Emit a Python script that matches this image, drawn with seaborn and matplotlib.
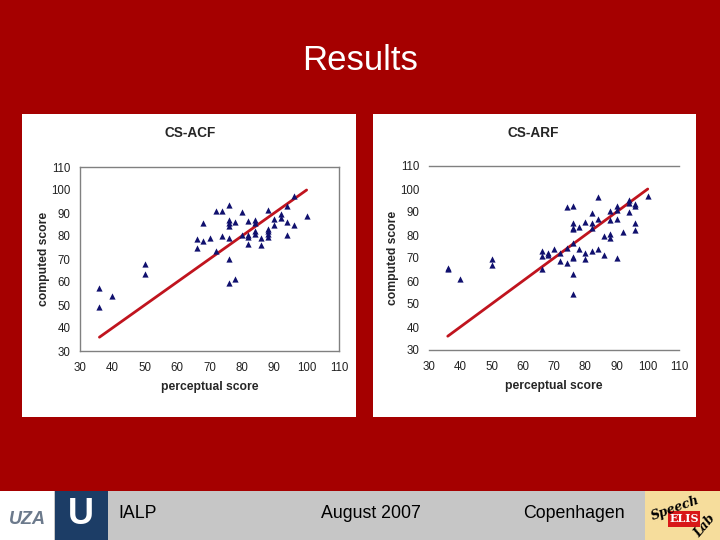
import numpy as np
import pandas as pd
import seaborn as sns
import matplotlib.pyplot as plt
from matplotlib.patches import Rectangle

# ==========================================
# DATA
# ==========================================
acf_perc = [36, 36, 40, 50, 50, 66, 66, 68, 68, 70, 72, 72, 74, 74,
            76, 76, 76, 76, 76, 76, 76, 78, 78, 80, 80, 82, 82, 82, 82,
            84, 84, 84, 84, 86, 86, 88, 88, 88, 88, 88, 90, 90, 92, 92,
            94, 94, 94, 96, 96, 100]
acf_comp = [57.5, 49, 54, 68, 63.5, 78.5, 75, 85.5, 78, 79, 91, 73.5, 91, 80,
            93.5, 87, 85.5, 84.5, 79, 70, 59.5, 86, 61.5, 90.5, 80.5, 86.5, 80.5, 79.5, 76.5,
            87, 85.5, 82, 81, 79, 76, 91.5, 83, 82, 81, 79.5, 87.5, 85, 89.5, 88,
            93, 86, 80.5, 97.5, 85, 88.5]

arf_perc = [36, 36, 40, 50, 50, 66, 66, 66, 68, 68, 70, 72, 72, 74, 74, 74,
            76, 76, 76, 76, 76, 76, 76, 76, 76, 78, 78, 80, 80, 80,
            82, 82, 82, 82, 84, 84, 84, 86, 86, 88, 88, 88, 88,
            90, 90, 90, 90, 92, 94, 94, 94, 96, 96, 96, 96, 100]
arf_comp = [65.5, 65, 61, 69.5, 67, 73, 71, 65, 72, 71.5, 74, 72, 68.5, 92, 74.5, 68,
            92.5, 85, 83, 82.5, 76.5, 70.5, 70, 63, 54.5, 83.5, 74, 85.5, 72, 69.5,
            89.5, 85, 83, 73, 96.5, 87, 74, 79.5, 71.5, 90.5, 86.5, 80.5, 78.5,
            92.5, 91, 87, 70, 81.5, 95, 94, 90, 93.5, 92.5, 85, 82, 97]

fit_x = [36, 100]
fit_y = [36, 100]

ticks = [30, 40, 50, 60, 70, 80, 90, 100, 110]
panel_titles = ["CS-ACF", "CS-ARF"]
footer_texts = ["IALP", "August 2007", "Copenhagen"]

BG_RED = '#A50000'
NAVY = '#10106E'
LINE_RED = '#C0141E'

sns.set_style("white")
plt.rcParams['font.family'] = ['Liberation Sans', 'DejaVu Sans']

fig = plt.figure(figsize=(7.2, 5.4), dpi=100)
fig.patch.set_facecolor(BG_RED)

def fx(px):
    return px / 720.0

def fy(py):
    return 1 - py / 540.0

# white chart panels (behind the axes)
for x0, x1 in [(22, 356), (373, 696)]:
    fig.patches.append(Rectangle((fx(x0), fy(417)), fx(x1 - x0), (417 - 114) / 540.0,
                                 transform=fig.transFigure, facecolor='white',
                                 edgecolor='none', zorder=-5))

# footer
fig.patches.append(Rectangle((0, 0), 1, 49 / 540.0, transform=fig.transFigure,
                             facecolor='#C6C6C6', edgecolor='none', zorder=-4))
fig.patches.append(Rectangle((0, 0), fx(54), 49 / 540.0, transform=fig.transFigure,
                             facecolor='white', edgecolor='none', zorder=-3))
fig.patches.append(Rectangle((fx(55), 0), fx(53), 49 / 540.0, transform=fig.transFigure,
                             facecolor='#1C3D66', edgecolor='none', zorder=-3))
fig.patches.append(Rectangle((fx(645), 0), fx(75), 49 / 540.0, transform=fig.transFigure,
                             facecolor='#F6DD9C', edgecolor='none', zorder=-3))
fig.patches.append(Rectangle((fx(668), fy(527)), fx(32), 16 / 540.0, transform=fig.transFigure,
                             facecolor='#D81818', edgecolor='none', zorder=-2))

fig.text(0.5, fy(60), "Results", color='white', fontsize=25, ha='center', va='center')

fig.text(fx(27), fy(520), "UZA", color='#6C7A8C', fontsize=13, fontweight='bold',
         ha='center', va='center', style='italic')
fig.text(fx(81), fy(514), "U", color='white', fontsize=26, fontweight='bold',
         ha='center', va='center')
fig.text(fx(675), fy(508), "Speech", color='black', fontsize=9, style='italic',
         fontweight='bold', ha='center', va='center', rotation=20, family='DejaVu Serif')
fig.text(fx(684), fy(519), "ELIS", color='white', fontsize=8, fontweight='bold',
         ha='center', va='center', family='DejaVu Serif')
fig.text(fx(705), fy(526), "Lab", color='black', fontsize=9, style='italic',
         fontweight='bold', ha='center', va='center', rotation=50, family='DejaVu Serif')

for txt, xc, ha in zip(footer_texts, [118, 371, 574], ['left', 'center', 'center']):
    fig.text(fx(xc), fy(513), txt, color='black', fontsize=12.8, ha=ha, va='center')

axes_boxes = [(80, 339, 167, 351), (429, 679, 166, 350)]
datasets = [(acf_perc, acf_comp), (arf_perc, arf_comp)]
title_x = [190, 533]

for i, ((x0, x1, y0, y1), (perc, comp)) in enumerate(zip(axes_boxes, datasets)):
    ax = fig.add_axes([fx(x0), fy(y1), fx(x1 - x0), (y1 - y0) / 540.0])
    ax.set_facecolor('white')
    df = pd.DataFrame({'perceptual': perc, 'computed': comp})
    sns.lineplot(x=fit_x, y=fit_y, ax=ax, color=LINE_RED, linewidth=2, zorder=2)
    sns.scatterplot(data=df, x='perceptual', y='computed', ax=ax, marker='^',
                    color=NAVY, s=20, linewidth=0, zorder=3)
    ax.set_xlim(30, 110)
    ax.set_ylim(30, 110)
    ax.set_xticks(ticks)
    ax.set_yticks(ticks)
    ax.tick_params(axis='x', length=0, labelsize=8.3, colors='#222222', pad=8)
    ax.tick_params(axis='y', length=0, labelsize=8.3, colors='#222222', pad=7)
    ax.set_xlabel("perceptual score", fontsize=8.7, fontweight='bold', labelpad=5)
    ax.set_ylabel("computed score", fontsize=8.7, fontweight='bold', labelpad=1)
    for side in ['top', 'bottom', 'left', 'right']:
        ax.spines[side].set_color('#808080')
        ax.spines[side].set_linewidth(1)
    if i == 1:
        ax.spines['left'].set_visible(False)
        ax.spines['right'].set_visible(False)
        ax.set_xticks([40], minor=True)
        ax.tick_params(axis='x', which='minor', direction='in', length=3, color='#555555')
    else:
        ax.set_yticks([70], minor=True)
        ax.tick_params(axis='y', which='minor', direction='out', length=3, color='#555555')
    fig.text(fx(title_x[i]), fy(133), panel_titles[i], fontsize=9.8, fontweight='bold',
             ha='center', va='center')

plt.savefig('out.png', dpi=100, facecolor=fig.get_facecolor())
